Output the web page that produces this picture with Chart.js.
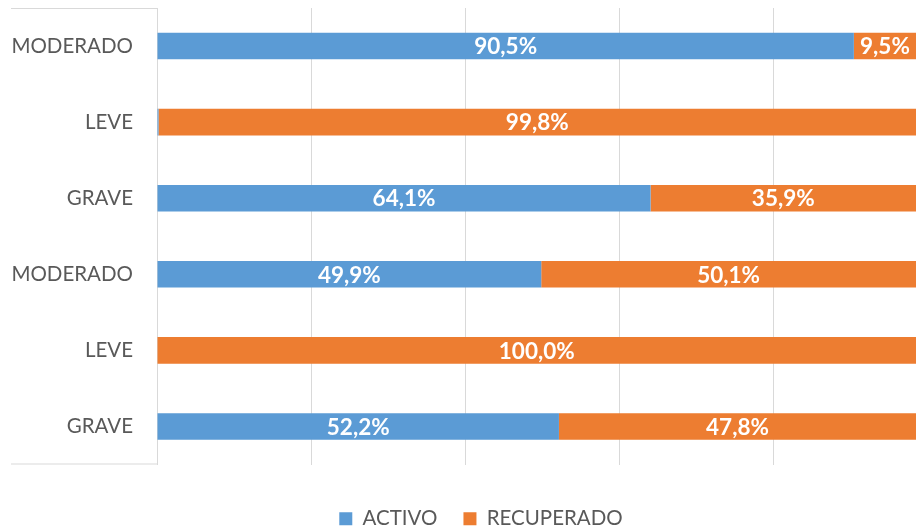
<!DOCTYPE html>
<html lang="es">
<head>
    <meta charset="UTF-8">
    <title>Activo / Recuperado</title>
    <script src="https://cdn.jsdelivr.net/npm/chart.js"></script>
    <style>
        * { margin: 0; padding: 0; box-sizing: border-box; }
        body { background: #fff; overflow: hidden; width: 916px; height: 529px; }
        .chart-box { width: 916px; height: 539px; position: relative; }
    </style>
</head>
<body>
    <div class="chart-box">
        <canvas id="barChart"></canvas>
    </div>

    <script>
        const categories = ['MODERADO', 'LEVE', 'GRAVE', 'MODERADO', 'LEVE', 'GRAVE'];
        const activo = [90.5, 0.2, 64.1, 49.9, 0.0, 52.2];
        const recuperado = [9.5, 99.8, 35.9, 50.1, 100.0, 47.8];
        const gridTicks = [0, 20, 40, 60, 80];

        const FONT = 'Lato, "Open Sans", sans-serif';
        const GRID = '#d9d9d9';

        // percent labels in the middle of each visible segment
        const segmentLabels = {
            id: 'segmentLabels',
            afterDatasetsDraw(chart) {
                const ctx = chart.ctx;
                const area = chart.chartArea;
                ctx.save();
                ctx.font = 'bold 22.5px ' + FONT;
                ctx.fillStyle = '#fff';
                ctx.textAlign = 'center';
                ctx.textBaseline = 'middle';
                chart.data.datasets.forEach((ds, i) => {
                    chart.getDatasetMeta(i).data.forEach((bar, j) => {
                        const v = ds.data[j];
                        if (v < 1) return;
                        const left = Math.max(Math.min(bar.base, bar.x), area.left);
                        const right = Math.min(Math.max(bar.base, bar.x), area.right);
                        ctx.fillText(v.toFixed(1).replace('.', ',') + '%', (left + right) / 2, bar.y + 1);
                    });
                });
                ctx.restore();
            }
        };

        // top and bottom edges of the label box, and legend shifted to the right
        const labelFrame = {
            id: 'labelFrame',
            afterLayout(chart) {
                chart.legend.left += 46;
            },
            afterDraw(chart) {
                const ctx = chart.ctx;
                const a = chart.chartArea;
                ctx.save();
                ctx.strokeStyle = GRID;
                ctx.lineWidth = 1;
                ctx.beginPath();
                ctx.moveTo(11, a.top + 0.5);
                ctx.lineTo(a.left, a.top + 0.5);
                ctx.moveTo(11, a.bottom - 0.5);
                ctx.lineTo(a.left, a.bottom - 0.5);
                ctx.stroke();
                ctx.restore();
            }
        };

        new Chart(document.getElementById('barChart'), {
            type: 'bar',
            data: {
                labels: categories,
                datasets: [
                    { label: 'ACTIVO', data: activo, backgroundColor: '#5B9BD5' },
                    { label: 'RECUPERADO', data: recuperado, backgroundColor: '#ED7D31' }
                ]
            },
            options: {
                indexAxis: 'y',
                responsive: true,
                maintainAspectRatio: false,
                animation: false,
                categoryPercentage: 1,
                barPercentage: 0.35,
                layout: { padding: { left: 0, top: 8, right: 0, bottom: 0 } },
                scales: {
                    x: {
                        stacked: true,
                        min: 0,
                        max: 98.57,
                        afterBuildTicks: s => { s.ticks = gridTicks.map(v => ({ value: v })); },
                        afterFit: s => { s.height = 18; },
                        ticks: { display: false },
                        grid: { color: GRID, drawTicks: false },
                        border: { display: false }
                    },
                    y: {
                        stacked: true,
                        afterFit: s => {
                            s.width = 157;
                            s.paddingTop = 0;
                            s.paddingBottom = 0;
                        },
                        ticks: { padding: 24, color: '#595959', font: { family: FONT, size: 20.5 } },
                        grid: { display: false, drawTicks: false },
                        border: { display: true, color: GRID }
                    }
                },
                plugins: {
                    legend: {
                        position: 'bottom',
                        labels: {
                            boxWidth: 13,
                            boxHeight: 13,
                            padding: 26,
                            color: '#595959',
                            font: { family: FONT, size: 20.5 }
                        }
                    },
                    tooltip: { enabled: false }
                }
            },
            plugins: [segmentLabels, labelFrame]
        });
    </script>
</body>
</html>
